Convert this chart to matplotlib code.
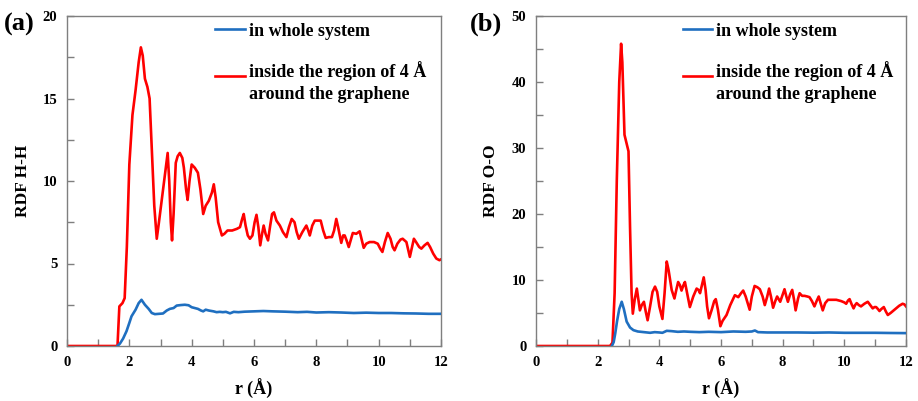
import matplotlib
matplotlib.use("Agg")
import matplotlib.pyplot as plt
from matplotlib.legend_handler import HandlerLine2D
from matplotlib.ticker import MultipleLocator

# ---------------- data ----------------
# (a) H-H, whole system
hh_whole_r = [1.62, 1.7, 1.8, 1.91, 2.0, 2.07, 2.2, 2.3, 2.39, 2.5, 2.62, 2.72, 2.82, 2.95,
              3.08, 3.2, 3.3, 3.42, 3.52, 3.65, 3.78, 3.9, 4.0, 4.1, 4.2, 4.3, 4.37, 4.45, 4.55,
              4.7, 4.8, 4.9, 5.0, 5.1, 5.23, 5.35, 5.5, 5.7, 6.0, 6.3, 6.6, 7.0, 7.4, 7.7, 8.0,
              8.4, 8.8, 9.2, 9.6, 10.0, 10.4, 10.8, 11.2, 11.6, 12.0]
hh_whole_g = [0, 0.15, 0.45, 0.9, 1.4, 1.8, 2.2, 2.6, 2.8, 2.5, 2.25, 2.0, 1.93, 1.95,
              1.97, 2.15, 2.25, 2.3, 2.45, 2.48, 2.5, 2.47, 2.35, 2.3, 2.25, 2.15, 2.1, 2.2, 2.15,
              2.1, 2.05, 2.07, 2.05, 2.07, 1.98, 2.07, 2.05, 2.08, 2.1, 2.12, 2.1, 2.08, 2.05, 2.07, 2.03,
              2.05, 2.03, 2.0, 2.02, 2.0, 2.0, 1.98, 1.97, 1.95, 1.95]

# (a) H-H, inside 4 Å of graphene
hh_inside_r = [0, 1.62, 1.68, 1.78, 1.85, 1.92, 2.0, 2.1, 2.2, 2.3, 2.37, 2.43, 2.5, 2.58, 2.65,
               2.72, 2.8, 2.88, 2.95, 3.05, 3.15, 3.23, 3.28, 3.33, 3.37, 3.42, 3.49, 3.55, 3.62,
               3.7, 3.75, 3.82, 3.87, 3.93, 4.0, 4.1, 4.2, 4.28, 4.37, 4.45, 4.55, 4.65, 4.71, 4.77,
               4.85, 4.97, 5.05, 5.15, 5.3, 5.45, 5.55, 5.62, 5.67, 5.73, 5.8, 5.87, 5.95, 6.02,
               6.08, 6.14, 6.2, 6.26, 6.31, 6.37, 6.45, 6.52, 6.58, 6.64, 6.72, 6.83, 6.93, 7.04,
               7.12, 7.21, 7.3, 7.37, 7.44, 7.55, 7.68, 7.74, 7.79, 7.87, 7.95, 8.05, 8.14, 8.22,
               8.3, 8.4, 8.5, 8.57, 8.64, 8.7, 8.8, 8.86, 8.91, 8.97, 9.04, 9.1, 9.17, 9.28, 9.39,
               9.45, 9.52, 9.6, 9.71, 9.85, 9.97, 10.05, 10.12, 10.2, 10.29, 10.38, 10.45, 10.51,
               10.6, 10.7, 10.77, 10.83, 10.89, 10.95, 11.0, 11.06, 11.13, 11.2, 11.3, 11.37,
               11.47, 11.57, 11.65, 11.75, 11.85, 11.95, 12.0]
hh_inside_g = [0, 0, 2.4, 2.6, 2.9, 6.0, 11.0, 14.0, 15.5, 17.2, 18.1, 17.6, 16.2, 15.7, 15.0,
               12.0, 8.5, 6.5, 7.5, 9.0, 10.5, 11.7, 10.0, 7.5, 6.4, 8.0, 11.1, 11.5, 11.7,
               11.4, 10.8, 9.5, 8.85, 10.0, 11.0, 10.8, 10.5, 9.5, 8.0, 8.5, 8.8, 9.3, 9.8, 9.0,
               7.5, 6.7, 6.8, 7.0, 7.0, 7.1, 7.2, 7.7, 8.0, 7.3, 6.7, 6.5, 6.7, 7.5,
               7.95, 7.2, 6.1, 6.8, 7.3, 6.8, 6.4, 7.3, 8.0, 8.1, 7.6, 7.3, 6.9, 6.6,
               7.2, 7.7, 7.5, 6.9, 6.5, 6.9, 7.3, 7.0, 6.7, 7.3, 7.6, 7.6, 7.6, 7.0,
               6.55, 6.6, 6.6, 7.0, 7.7, 7.2, 6.25, 6.7, 6.7, 6.4, 6.0, 6.4, 6.85, 6.8, 6.95,
               6.5, 5.95, 6.2, 6.3, 6.3, 6.2, 5.9, 5.7, 6.3, 6.85, 6.5, 6.0, 5.8,
               6.2, 6.45, 6.5, 6.4, 6.3, 5.8, 5.4, 5.9, 6.5, 6.3, 6.0, 5.9,
               6.1, 6.25, 6.0, 5.6, 5.3, 5.2, 5.25]

# (b) O-O, whole system
oo_whole_r = [2.46, 2.52, 2.57, 2.63, 2.7, 2.78, 2.85, 2.94, 3.05, 3.16, 3.3, 3.5, 3.7, 3.85,
              4.0, 4.1, 4.24, 4.4, 4.6, 4.8, 5.0, 5.3, 5.6, 6.0, 6.4, 6.8, 7.0, 7.1, 7.2, 7.5,
              8.0, 8.5, 9.0, 9.5, 10.0, 10.5, 11.0, 11.5, 12.0]
oo_whole_g = [0, 0.6, 1.9, 3.8, 5.6, 6.7, 5.6, 3.7, 2.8, 2.4, 2.2, 2.1, 2.0, 2.1,
              2.05, 2.0, 2.3, 2.25, 2.15, 2.2, 2.15, 2.1, 2.15, 2.1, 2.2, 2.15, 2.2, 2.35, 2.1, 2.05,
              2.05, 2.05, 2.02, 2.05, 2.0, 2.0, 2.0, 1.97, 1.95]

# (b) O-O, inside 4 Å of graphene
oo_inside_r = [0, 2.4, 2.48, 2.55, 2.62, 2.7, 2.76, 2.8, 2.87, 2.95, 3.0, 3.05, 3.1, 3.14, 3.2,
               3.27, 3.32, 3.37, 3.43, 3.5, 3.56, 3.62, 3.7, 3.78, 3.86, 3.93, 4.0, 4.1, 4.17,
               4.24, 4.3, 4.4, 4.49, 4.55, 4.61, 4.67, 4.72, 4.78, 4.83, 4.9, 4.99, 5.1, 5.21,
               5.27, 5.32, 5.38, 5.44, 5.5, 5.55, 5.61, 5.7, 5.78, 5.83, 5.9, 5.98, 6.05, 6.18,
               6.3, 6.45, 6.56, 6.65, 6.72, 6.8, 6.93, 7.0, 7.09, 7.18, 7.26, 7.35, 7.42, 7.5,
               7.56, 7.62, 7.69, 7.76, 7.82, 7.88, 7.92, 8.0, 8.06, 8.12, 8.17, 8.24, 8.31, 8.37,
               8.42, 8.5, 8.55, 8.63, 8.71, 8.8, 8.87, 8.95, 9.03, 9.1, 9.17, 9.23, 9.3, 9.38,
               9.47, 9.6, 9.74, 9.9, 10.0, 10.06, 10.12, 10.17, 10.23, 10.3, 10.35, 10.4, 10.47,
               10.54, 10.65, 10.76, 10.84, 10.92, 10.98, 11.03, 11.09, 11.14, 11.2, 11.28, 11.35,
               11.41, 11.5, 11.6, 11.68, 11.78, 11.89, 11.95, 12.0]
oo_inside_g = [0, 0, 0.5, 8.0, 25.0, 40.0, 45.8, 43.0, 32.0, 30.5, 29.5, 18.0, 8.0, 4.9, 7.0,
               8.7, 7.0, 5.4, 6.2, 6.7, 5.2, 3.9, 6.0, 8.2, 9.0, 8.2, 6.0, 4.1, 8.0,
               12.8, 11.5, 8.5, 7.2, 8.5, 9.7, 9.2, 8.4, 9.2, 9.7, 8.0, 5.9, 7.5, 8.7,
               8.5, 8.0, 9.2, 10.4, 8.5, 6.0, 4.2, 5.5, 6.8, 7.1, 5.5, 3.0, 3.8, 4.7,
               6.2, 7.7, 7.4, 8.0, 8.4, 7.5, 5.5, 7.5, 9.1, 8.9, 8.6, 7.5, 6.2, 7.5,
               8.7, 7.5, 5.8, 6.8, 7.5, 7.0, 6.7, 7.8, 8.6, 7.5, 6.7, 7.8, 8.5, 7.0,
               5.4, 7.2, 8.0, 7.6, 7.6, 7.5, 7.4, 6.8, 6.0, 6.8, 7.5, 6.5, 5.4, 6.5,
               7.0, 7.0, 7.0, 6.8, 6.6, 6.4, 6.9, 7.1, 6.4, 5.7, 6.2, 6.5, 6.2,
               6.0, 6.4, 6.7, 6.2, 5.7, 5.9, 5.9, 5.6, 5.3, 5.6, 5.9, 5.2,
               4.7, 5.0, 5.4, 5.7, 6.1, 6.4, 6.3, 6.0]

legend_labels = ["in whole system", "inside the region of 4 Å\naround the graphene"]
panel_labels = ["(a)", "(b)"]
y_labels = ["RDF H-H", "RDF O-O"]
x_label = "r (Å)"

# ---------------- style ----------------
BLUE = "#1f6fc0"
RED = "#ff0000"
SPINE = "#7f7f7f"
SERIF = ["Liberation Serif", "DejaVu Serif"]
plt.rcParams["font.family"] = SERIF
plt.rcParams["font.weight"] = "bold"


class FirstLineHandler(HandlerLine2D):
    """Place the legend line beside the first line of a two-line label."""
    def __init__(self, shift=0.0, **kw):
        super().__init__(**kw)
        self.shift = shift

    def create_artists(self, legend, orig_handle, xdescent, ydescent, width, height,
                       fontsize, trans):
        return super().create_artists(legend, orig_handle, xdescent,
                                      ydescent - self.shift * fontsize, width, height,
                                      fontsize, trans)


fig = plt.figure(figsize=(9.18, 4.01), dpi=100)
axes = [fig.add_axes([67 / 918, 1 - 346 / 401, 374 / 918, 330 / 401]),
        fig.add_axes([536 / 918, 1 - 346 / 401, 370 / 918, 330 / 401])]

datasets = [(hh_whole_r, hh_whole_g, hh_inside_r, hh_inside_g),
            (oo_whole_r, oo_whole_g, oo_inside_r, oo_inside_g)]
ylims = [(0, 20), (0, 50)]
ymaj = [5, 10]
ymin = [2.5, 5]
panel_x = [4 / 918, 470 / 918]
ylabel_x = [-0.097, -0.1]

for i, ax in enumerate(axes):
    wr, wg, ir, ig = datasets[i]
    l2, = ax.plot(ir, ig, color=RED, lw=1.9, solid_joinstyle="round", zorder=2)
    l1, = ax.plot(wr, wg, color=BLUE, lw=1.9, solid_joinstyle="round", zorder=3)
    ax.set_xlim(0, 12)
    ax.set_ylim(*ylims[i])
    ax.xaxis.set_major_locator(MultipleLocator(2))
    ax.xaxis.set_minor_locator(MultipleLocator(1))
    ax.yaxis.set_major_locator(MultipleLocator(ymaj[i]))
    ax.yaxis.set_minor_locator(MultipleLocator(ymin[i]))
    ax.tick_params(which="both", direction="in", color=SPINE, width=1.0,
                   labelsize=10.5, top=False, right=False)
    ax.tick_params(which="major", length=5, pad=7)
    ax.tick_params(which="minor", length=5)
    for lab in ax.get_xticklabels() + ax.get_yticklabels():
        lab.set_fontweight("bold")
    for sp in ax.spines.values():
        sp.set_color(SPINE)
        sp.set_linewidth(1.0)
    ax.set_xlabel(x_label, fontsize=13, fontweight="bold")
    ax.xaxis.set_label_coords(0.5, -0.1)
    ax.set_ylabel(y_labels[i], fontsize=12.5, fontweight="bold")
    ax.yaxis.set_label_coords(ylabel_x[i], 0.5)

    leg = ax.legend([l1, l2], legend_labels, loc="upper left",
                    bbox_to_anchor=(0.396, 0.98), frameon=False,
                    prop={"family": SERIF, "weight": "bold", "size": 13},
                    handlelength=1.65, handletextpad=0.2, labelspacing=1.2,
                    borderpad=0, borderaxespad=0,
                    handler_map={l2: FirstLineHandler(shift=0.7)})
    leg.get_texts()[1].set_linespacing(1.4)

    fig.text(panel_x[i], 1 - 24 / 401, panel_labels[i], fontsize=19,
             fontweight="bold", ha="left", va="center")

fig.savefig("out.png", dpi=100)
